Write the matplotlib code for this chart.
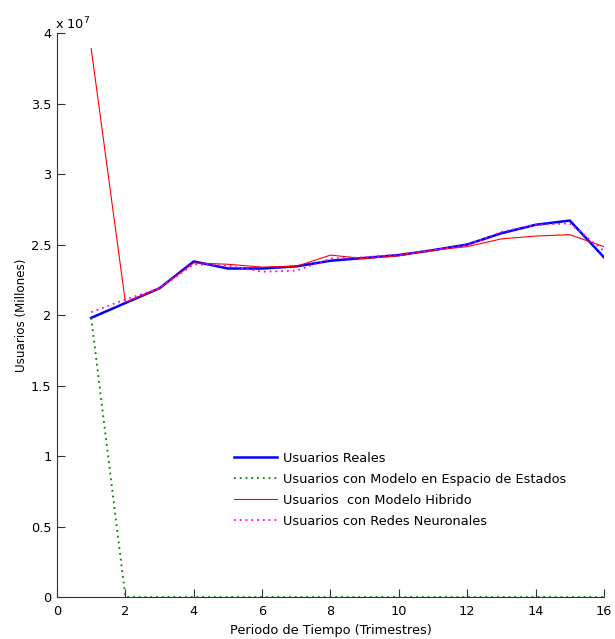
import matplotlib
matplotlib.use("Agg")
import matplotlib.pyplot as plt
from matplotlib.ticker import FuncFormatter

plt.rcParams['font.family'] = ['DejaVu Sans']

periodos = list(range(1, 17))
reales = [19.8e6, 20.85e6, 21.9e6, 23.8e6, 23.3e6, 23.3e6, 23.45e6, 23.85e6,
          24.05e6, 24.25e6, 24.6e6, 25.0e6, 25.8e6, 26.4e6, 26.7e6, 24.1e6]
espacio_estados = [19.8e6, 0, 0, 0, 0, 0, 0, 0, 0, 0, 0, 0, 0, 0, 0, 0]
hibrido = [38.9e6, 20.9e6, 21.9e6, 23.7e6, 23.6e6, 23.4e6, 23.45e6, 24.25e6,
           24.0e6, 24.2e6, 24.6e6, 24.85e6, 25.4e6, 25.6e6, 25.7e6, 24.85e6]
redes = [20.2e6, 21.1e6, 21.9e6, 23.6e6, 23.5e6, 23.07e6, 23.15e6, 24.0e6,
         24.1e6, 24.3e6, 24.6e6, 24.95e6, 25.9e6, 26.4e6, 26.5e6, 24.55e6]

etiquetas = ['Usuarios Reales',
             'Usuarios con Modelo en Espacio de Estados',
             'Usuarios  con Modelo Hibrido',
             'Usuarios con Redes Neuronales']

fig = plt.figure(figsize=(6.15, 6.39), dpi=100)
ax = fig.add_axes([0.0927, 0.0657, 0.8893, 0.8826])

ax.plot(periodos, reales, color='#0000ff', lw=1.8, label=etiquetas[0])
ax.plot(periodos, espacio_estados, color='#008000', lw=1.3, ls=(0, (1, 2.2)), label=etiquetas[1])
ax.plot(periodos, hibrido, color='#ff0000', lw=0.8, label=etiquetas[2])
ax.plot(periodos, redes, color='#ff00ff', lw=1.3, ls=(0, (1, 2.2)), label=etiquetas[3])

ax.set_xlim(0, 16)
ax.set_ylim(0, 4e7)
ax.set_xticks(range(0, 17, 2))
ax.set_yticks([i * 0.5e7 for i in range(9)])
ax.yaxis.set_major_formatter(FuncFormatter(lambda v, p: f"{v / 1e7:g}"))

for s in ['top', 'right']:
    ax.spines[s].set_visible(False)
for s in ['left', 'bottom']:
    ax.spines[s].set_color('#333333')
    ax.spines[s].set_linewidth(0.8)
ax.tick_params(direction='in', length=5.5, width=0.8, colors='#333333',
               labelcolor='black', labelsize=9.3)
ax.tick_params(axis='x', pad=6)
ax.tick_params(axis='y', pad=4)

ax.set_xlabel('Periodo de Tiempo (Trimestres)', fontsize=9.3, labelpad=4)
ax.set_ylabel('Usuarios (Millones)', fontsize=8.6, labelpad=2)
ax.text(-0.004, 1.006, r'x 10$^{7}$', transform=ax.transAxes, fontsize=9.3,
        ha='left', va='baseline')

ax.legend(loc='upper left', bbox_to_anchor=(0.314, 0.267), frameon=False,
          fontsize=9.3, handlelength=3.35, handletextpad=0.45, labelspacing=0.62,
          borderaxespad=0)

fig.savefig('out.png', dpi=100)
